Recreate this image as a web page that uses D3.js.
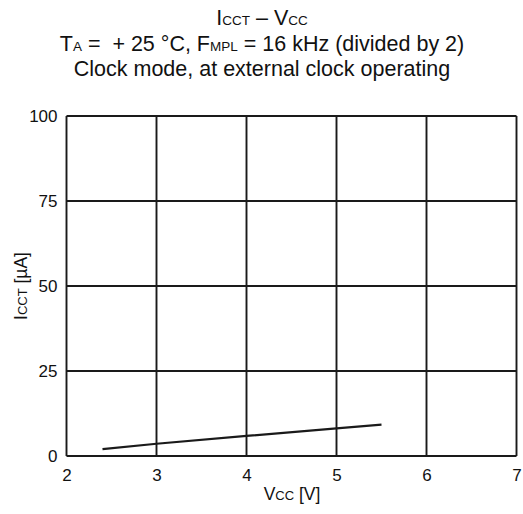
<!DOCTYPE html>
<html><head><meta charset="utf-8">
<script src="https://cdn.jsdelivr.net/npm/d3@7"></script>
<style>body{margin:0;background:#fff}svg{display:block}text{font-family:"Liberation Sans",Arial,sans-serif;fill:#111}</style>
</head><body><svg id="c" width="523" height="514"></svg>
<script>
const vcc = [2.4, 3, 4, 5, 5.5];
const icct = [2.0, 3.6, 5.9, 8.1, 9.2];
const xTicks = [2, 3, 4, 5, 6, 7];
const yTicks = [0, 25, 50, 75, 100];

const svg = d3.select("#c");
const L = 66.5, R = 516.5, T = 116, B = 456;
const x = d3.scaleLinear().domain([2, 7]).range([L, R]);
const y = d3.scaleLinear().domain([0, 100]).range([B, T]);
const ink = "#1a1a1a";

// grid
const g = svg.append("g");
g.selectAll(".vx").data(xTicks).join("line")
  .attr("x1", d => x(d)).attr("x2", d => x(d)).attr("y1", T).attr("y2", B)
  .attr("stroke", ink).attr("stroke-width", 1.9);
g.selectAll(".hy").data(yTicks).join("line")
  .attr("x1", L).attr("x2", R).attr("y1", d => y(d)).attr("y2", d => y(d))
  .attr("stroke", ink).attr("stroke-width", 1.9);

// axes labels via d3 axes (no tick lines)
const xa = svg.append("g").attr("transform", `translate(0,${B})`)
  .call(d3.axisBottom(x).tickValues(xTicks).tickSize(0).tickPadding(13).tickFormat(d3.format("d")));
xa.select(".domain").remove();
xa.selectAll("text").attr("font-size", 17).attr("font-family", "Liberation Sans, Arial, sans-serif").attr("fill", "#111");
const ya = svg.append("g").attr("transform", `translate(${L},0)`)
  .call(d3.axisLeft(y).tickValues(yTicks).tickSize(0).tickPadding(9).tickFormat(d3.format("d")));
ya.select(".domain").remove();
ya.selectAll("text").attr("font-size", 17).attr("font-family", "Liberation Sans, Arial, sans-serif").attr("fill", "#111");

// data line
svg.append("path").datum(vcc.map((v, i) => [v, icct[i]]))
  .attr("d", d3.line().x(d => x(d[0])).y(d => y(d[1])))
  .attr("fill", "none").attr("stroke", ink).attr("stroke-width", 2.2);

// titles
function rich(sel, parts, big, small) {
  parts.forEach(([t, s]) => sel.append("tspan").attr("font-size", s ? small : big).text(t));
}
const cx = 262;
rich(svg.append("text").attr("x", cx).attr("y", 25).attr("text-anchor", "middle"),
  [["I"], ["CCT", 1], [" – V"], ["CC", 1]], 21.5, 13.5);
rich(svg.append("text").attr("x", cx).attr("y", 50.5).attr("text-anchor", "middle"),
  [["T"], ["A", 1], [" =\u00a0\u00a0+ 25 °C, F"], ["MPL", 1], [" = 16 kHz (divided by 2)"]], 21.5, 13.5);
rich(svg.append("text").attr("x", cx).attr("y", 76).attr("text-anchor", "middle"),
  [["Clock mode, at external clock operating"]], 21.5, 13.5);

rich(svg.append("text").attr("x", 292).attr("y", 500).attr("text-anchor", "middle"),
  [["V"], ["CC", 1], [" [V]"]], 17.5, 13);
rich(svg.append("text").attr("transform", `translate(27,${(T + B) / 2}) rotate(-90)`).attr("text-anchor", "middle"),
  [["I"], ["CCT", 1], [" [µA]"]], 17.5, 13);
</script></body></html>
